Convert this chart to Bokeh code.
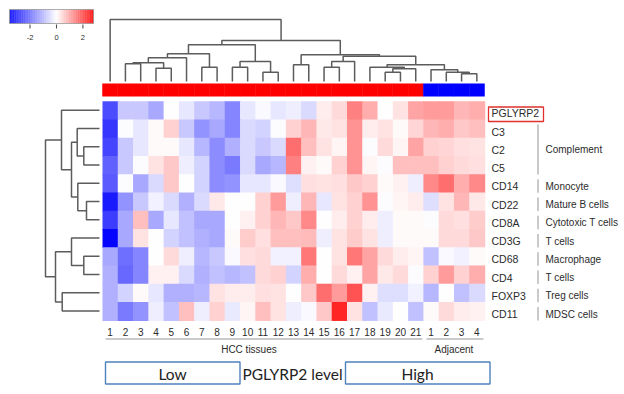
import numpy as np
from bokeh.plotting import figure
from bokeh.models import Range1d, LinearColorMapper, ColumnDataSource
from bokeh.core.properties import value
from bokeh.embed import file_html
from bokeh.resources import INLINE

# ---------------- data ----------------
genes = ["PGLYRP2", "C3", "C2", "C5", "CD14", "CD22", "CD8A", "CD3G",
         "CD68", "CD4", "FOXP3", "CD11"]
sample_labels = ["1", "2", "3", "4", "5", "6", "7", "8", "9", "10", "11", "12",
                 "13", "14", "15", "16", "17", "18", "19", "20", "21",
                 "1", "2", "3", "4"]
sample_group = ["HCC"] * 21 + ["Adjacent"] * 4
group_names = ["HCC tissues", "Adjacent"]
group_keys = ["HCC", "Adjacent"]
group_colors = ["#ff0000", "#0000ff"]

expr_PGLYRP2 = [-2.5, -0.75, -0.75, -1.2, 0, -0.35, -0.75, -1.0, -1.7, -0.35, -0.1, -0.35, -0.25, -0.5, 0.2, 0.4, 1.4, 0.9, 0, 0.3, 1.0, 1.1, 1.1, 0.8, 0.9]
expr_C3 = [-2.8, -0.05, -0.35, 0.05, 0.5, -0.75, -1.5, -1.2, -1.7, -0.5, -0.6, -0.05, 0.5, 0.8, 0.25, 0.3, 1.2, 0.2, 0.3, 0.05, 0.45, 0.8, 0.9, 0.6, 0.7]
expr_C2 = [-2.6, -0.75, -0.35, 0.05, 0.05, -0.35, -1.0, -1.6, -1.1, -0.5, -0.75, -0.5, 1.6, 0.7, 0.3, 0.1, 1.2, -0.05, 0.4, 0.1, 1.0, 0.5, 0.45, 0.35, 0.3]
expr_C5 = [-2.2, -0.75, -0.05, 0.3, 0.6, -0.25, -0.6, -1.6, -1.85, -0.5, -1.2, -1.0, 1.4, 0.15, 0.05, 0.5, 1.2, 0.1, -0.05, 0.7, 0.7, 0.7, 0.5, 0.4, 0.35]
expr_CD14 = [-2.3, -0.05, -1.2, -0.5, 0.6, 0, -0.6, -1.6, -1.5, -0.35, -0.35, -0.1, -0.45, 0.35, 0.3, 0.35, 0.6, 0.5, 0.05, 0.15, -0.25, 1.3, 1.6, 0.9, 1.3]
expr_CD22 = [-3.2, -1.5, -0.75, -0.2, -0.5, -1.1, -0.5, 0.25, 0, 0, 0.5, 1.1, -0.25, 0.8, -0.35, 0.3, 0.5, 1.2, -0.05, 0.1, 0.2, -0.45, 0.3, 0.8, 0.25]
expr_CD8A = [-2.7, -1.2, 0.7, -1.2, -0.35, -0.85, -1.2, -1.2, 0, 0.15, 0.5, 0.8, 0.6, 1.3, 0, 0.2, 0.5, 0.2, -0.25, 0.05, 0.05, -0.05, 0.4, 0.35, 0.55]
expr_CD3G = [-3.5, -1.2, 0.3, 0, -0.6, -0.85, -1.1, -1.2, 0.05, 0.55, 0.35, 0.7, 0.7, 0.75, -0.25, 0.3, 0.55, 0.3, -0.25, 0.05, 0.05, 0.05, 0.4, 0.4, 0.6]
expr_CD68 = [-1.2, -2.0, -1.7, 0, 0.4, -0.25, -1.0, -0.75, -0.1, 0.35, 0.4, -0.2, -0.2, 1.5, 0, 0.3, 1.5, 1.0, 0.4, 0.2, 0.1, -0.85, -0.1, -0.2, 0.05]
expr_CD4 = [-1.1, -2.1, -1.7, 0.15, 0.15, -0.5, -1.1, -0.85, -1.0, -0.85, 0.4, 0.5, -0.6, 0.9, 0, 0.4, 0.15, 1.0, 0.25, 0.4, -0.05, 0.5, 1.1, 0.5, 0.9]
expr_FOXP3 = [-1.1, -0.6, 0.05, -0.35, -1.1, -1.1, -1.0, 0.3, 0.2, 0.2, 0.35, 0.3, 0, 0.6, 1.6, 1.1, 1.9, 0.15, -0.45, -0.45, -0.2, -1.0, 0, -0.85, -0.5]
expr_CD11 = [-1.1, -1.85, -1.5, -0.25, -0.85, 0.7, -0.25, 0.5, -0.3, 0.1, 0.7, 0.3, -0.25, -0.1, 0.6, 2.4, 0.3, -0.85, -0.3, 0, -0.85, 0.05, 0.4, 0.2, 0.15]
expression = [expr_PGLYRP2, expr_C3, expr_C2, expr_C5, expr_CD14, expr_CD22,
              expr_CD8A, expr_CD3G, expr_CD68, expr_CD4, expr_FOXP3, expr_CD11]

# row annotation: (label, first row, last row)
row_groups = [("Complement", 1, 3), ("Monocyte", 4, 4), ("Mature B cells", 5, 5),
              ("Cytotoxic T cells", 6, 6), ("T cells", 7, 7), ("Macrophage", 8, 8),
              ("T cells", 9, 9), ("Treg cells", 10, 10), ("MDSC cells", 11, 11)]

# column dendrogram (scipy-style linkage: left id, right id, height)
col_linkage = [(1, 2, 17.7), (3, 4, 13.3), (25, 26, 18.7), (27, 5, 23.7),
               (6, 7, 14.3), (28, 29, 27.7), (8, 9, 14.3), (10, 11, 9.3),
               (31, 32, 20.0), (30, 33, 36.7), (12, 13, 16.7), (14, 15, 14.3),
               (36, 16, 20.0), (18, 19, 9.3), (38, 20, 12.7), (17, 39, 14.3),
               (23, 24, 7.7), (22, 41, 9.3), (21, 42, 11.7), (40, 43, 16.7),
               (37, 44, 25.3), (35, 45, 26.7), (34, 46, 41.0), (0, 47, 62.0)]
# row dendrogram
row_linkage = [(2, 3, 15.7), (1, 12, 22.3), (5, 6, 13.0), (4, 14, 21.7),
               (13, 15, 28.0), (0, 16, 38.0), (8, 9, 15.7), (7, 18, 28.0),
               (10, 11, 37.3), (19, 20, 44.0), (17, 21, 54.0)]

cb_low, cb_high = -3.55, 2.8
cb_ticks = [-2, 0, 2]

# ---------------- layout (image pixels) ----------------
PAGE = 0
W, H = 624, 394
HM_X0, HM_Y0 = 102.0, 100.7
CELL_W, CELL_H = 15.28, 18.25
TOP_LEAF_Y = 81.0
LEFT_LEAF_X = 99.0
CB_X0, CB_X1, CB_Y0, CB_Y1 = 9.0, 93.0, 9.0, 23.0

n_rows, n_cols = len(genes), len(sample_labels)
FONT = value("Liberation Sans")
DARK = "#2b2b2b"
LINE = "#5c5c5c"

p = figure(width=W, height=H, output_backend="svg", toolbar_location=None,
           x_axis_location=None, y_axis_location=None, min_border=0,
           x_range=Range1d((PAGE - HM_X0) / CELL_W, (PAGE + W - HM_X0) / CELL_W),
           y_range=Range1d((PAGE + H - HM_Y0) / CELL_H, (PAGE - HM_Y0) / CELL_H))
p.grid.visible = False
p.outline_line_color = None
p.background_fill_color = "white"
p.border_fill_color = "white"

cb_scale = (CB_X1 - CB_X0) / (cb_high - cb_low)
p.extra_x_ranges = {
    "px": Range1d(PAGE, PAGE + W),
    "ldend": Range1d(LEFT_LEAF_X - PAGE, LEFT_LEAF_X - PAGE - W),
    "cb": Range1d(cb_low - (CB_X0 - PAGE) / cb_scale, cb_low + (PAGE + W - CB_X0) / cb_scale),
}
p.extra_y_ranges = {
    "px": Range1d(PAGE + H, PAGE),
    "tdend": Range1d(TOP_LEAF_Y - PAGE - H, TOP_LEAF_Y - PAGE),
}

# colour map: blue -> white (0) -> red
def diverging(low, high, n=256):
    cols = []
    for i in range(n):
        v = low + (high - low) * (i + 0.5) / n
        if v < 0:
            s = v / low
            c = int(round(255 * (1 - s)))
            cols.append("#%02x%02x%02x" % (c, c, 255))
        else:
            s = v / high
            c = int(round(255 * (1 - s)))
            cols.append("#%02x%02x%02x" % (255, c, c))
    return cols

mapper = LinearColorMapper(palette=diverging(cb_low, cb_high), low=cb_low, high=cb_high)

# ---------------- heatmap ----------------
xs, ys, vs = [], [], []
for r, row in enumerate(expression):
    for c, v in enumerate(row):
        xs.append(c + 0.5)
        ys.append(r + 0.5)
        vs.append(v)
src = ColumnDataSource(dict(x=xs, y=ys, v=vs))
p.rect("x", "y", width=1, height=1, source=src, dilate=True,
       fill_color={"field": "v", "transform": mapper}, line_color=None)

# column group bar
bar_colors = [group_colors[group_keys.index(g)] for g in sample_group]
p.quad(left=list(range(n_cols)), right=[i + 1 for i in range(n_cols)],
       top=[83.3] * n_cols, bottom=[95.7] * n_cols, y_range_name="px",
       fill_color=bar_colors, line_color=bar_colors, line_width=0.5)

# ---------------- dendrograms ----------------
def dendro_paths(linkage, n):
    pos = {i: i + 0.5 for i in range(n)}
    hgt = {i: 0.0 for i in range(n)}
    paths_pos, paths_h = [], []
    for k, (a, b, h) in enumerate(linkage):
        node = n + k
        paths_pos.append([pos[a], pos[a], pos[b], pos[b]])
        paths_h.append([hgt[a], h, h, hgt[b]])
        pos[node] = (pos[a] + pos[b]) / 2
        hgt[node] = h
    return paths_pos, paths_h

cp, ch = dendro_paths(col_linkage, n_cols)
p.multi_line(xs=cp, ys=ch, y_range_name="tdend", line_color=LINE, line_width=1.5)
rp, rh = dendro_paths(row_linkage, n_rows)
p.multi_line(xs=rh, ys=rp, x_range_name="ldend", line_color=LINE, line_width=1.5)

# ---------------- row labels / annotation ----------------
p.text(x=[n_cols] * n_rows, y=[r + 0.5 for r in range(n_rows)], text=genes,
       x_offset=7, y_offset=3, text_baseline="middle", text_align="left",
       text_font=FONT, text_font_size="10.5px", text_color=DARK)
# highlight box around PGLYRP2
p.quad(left=[488], right=[543], top=[106.5], bottom=[121], x_range_name="px",
       y_range_name="px", fill_color=None, line_color="#e0302f", line_width=1.3)

gx0 = [537.5] * len(row_groups)
p.segment(x0=gx0, x1=gx0, y0=[g[1] + 0.28 for g in row_groups],
          y1=[g[2] + 1.02 for g in row_groups], x_range_name="px",
          line_color="#b8b8b8", line_width=1.5)
p.text(x=[545] * len(row_groups), y=[(g[1] + g[2] + 1) / 2 for g in row_groups],
       text=[g[0] for g in row_groups], x_range_name="px", y_offset=3,
       text_baseline="middle", text_align="left", text_font=FONT,
       text_font_size="10px", text_color=DARK)

# ---------------- column labels ----------------
p.text(x=[i + 0.5 for i in range(n_cols)], y=[331] * n_cols, text=sample_labels,
       y_range_name="px", text_baseline="middle", text_align="center",
       text_font=FONT, text_font_size="10px", text_color=DARK)

g_first = [sample_group.index(k) for k in group_keys]
g_last = [len(sample_group) - 1 - sample_group[::-1].index(k) for k in group_keys]
p.segment(x0=[f + 0.2 for f in g_first], x1=[l + 0.93 for l in g_last],
          y0=[338.5] * 2, y1=[338.5] * 2, y_range_name="px",
          line_color="#b8b8b8", line_width=1.5)
p.text(x=[(f + l + 1) / 2 for f, l in zip(g_first, g_last)], y=[349] * 2,
       text=group_names, y_range_name="px", x_offset=[-14, 0],
       text_baseline="middle", text_align="center", text_font=FONT,
       text_font_size="10px", text_color=DARK)

# ---------------- PGLYRP2 level boxes ----------------
p.quad(left=[105, 345], right=[239.5, 489.5], top=[361.5, 361.5], bottom=[383.5, 383.5],
       x_range_name="px", y_range_name="px", fill_color=None,
       line_color="#4f81bd", line_width=1.4)
p.text(x=[172, 292, 417], y=[373, 373, 373], text=["Low", "PGLYRP2 level", "High"],
       x_range_name="px", y_range_name="px", text_baseline="middle",
       text_align="center", text_font=value("Lato"), text_font_size="15.5px",
       text_color="#222222")

# ---------------- colour bar ----------------
nstrip = 120
edges = np.linspace(cb_low, cb_high, nstrip + 1)
mids = (edges[:-1] + edges[1:]) / 2
pal = mapper.palette
strip_cols = [pal[min(len(pal) - 1, int((m - cb_low) / (cb_high - cb_low) * len(pal)))] for m in mids]
p.quad(left=edges[:-1], right=edges[1:] + 0.01, top=[CB_Y0] * nstrip, bottom=[CB_Y1] * nstrip,
       x_range_name="cb", y_range_name="px", fill_color=strip_cols, line_color=None)
p.quad(left=[cb_low], right=[cb_high], top=[CB_Y0], bottom=[CB_Y1],
       x_range_name="cb", y_range_name="px", fill_color=None,
       line_color="#9a9a9a", line_width=0.8)
p.segment(x0=cb_ticks, x1=cb_ticks, y0=[24] * 3, y1=[28] * 3,
          x_range_name="cb", y_range_name="px", line_color="#444444", line_width=1)
p.text(x=cb_ticks, y=[37] * 3, text=[str(t) for t in cb_ticks],
       x_range_name="cb", y_range_name="px", text_baseline="middle",
       text_align="center", text_font=FONT, text_font_size="7.5px", text_color=DARK)

open("out.html", "w").write(file_html(p, INLINE))
